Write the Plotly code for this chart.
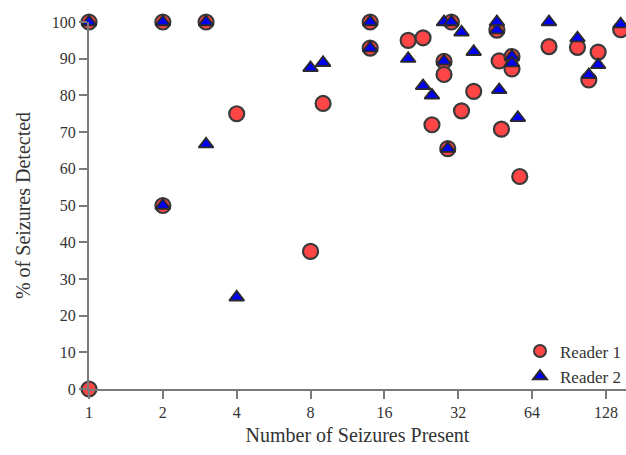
import plotly.graph_objects as go

# Reader 1 (circles)
r1_x = [1, 1, 2, 2, 3, 4, 8, 9, 14, 14, 20, 23, 25, 28, 28, 29, 30, 33, 37,
        46, 47, 48, 53, 53, 57, 75, 98, 109, 119, 147]
r1_y = [0, 100, 100, 50, 100, 75, 37.5, 77.8, 100, 92.9, 95, 95.7, 72, 89.3, 85.7,
        65.5, 100, 75.8, 81.1, 97.8, 89.4, 70.8, 90.6, 87.2, 57.9, 93.3, 93.1,
        84.2, 91.8, 97.9]

# Reader 2 (triangles)
r2_x = [1, 2, 2, 3, 3, 4, 8, 9, 14, 14, 20, 23, 25, 28, 28, 29, 30, 33, 37,
        46, 46, 47, 53, 53, 56, 75, 98, 109, 119, 147]
r2_y = [100, 100, 50, 100, 66.7, 25, 87.5, 88.9, 100, 92.9, 90, 82.6, 80, 100, 89.3,
        65.5, 100, 97.2, 91.9, 97.8, 100, 81.5, 90.6, 88.8, 73.9, 100, 95.6,
        85.6, 88.3, 99.4]

x_ticks = [1, 2, 4, 8, 16, 32, 64, 128]
y_ticks = list(range(0, 101, 10))

font_family = "Liberation Serif, Times New Roman, serif"

fig = go.Figure()
fig.add_trace(go.Scatter(
    x=r1_x, y=r1_y, mode="markers", name="Reader 1", cliponaxis=False,
    marker=dict(symbol="circle", size=15, color="#FF4545",
                line=dict(color="#3a3a3a", width=2.2)),
))
fig.add_trace(go.Scatter(
    x=r2_x, y=r2_y, mode="markers", name="Reader 2", cliponaxis=False,
    marker=dict(symbol="triangle-up", size=13, color="#0000F0",
                line=dict(color="#2a2a2a", width=1.8)),
))

fig.update_layout(
    width=626, height=455,
    margin=dict(l=89, r=0, t=22, b=66),
    paper_bgcolor="white", plot_bgcolor="white",
    font=dict(family=font_family, size=16, color="#333333"),
    showlegend=True,
    legend=dict(x=1.0, xanchor="right", y=-0.015, yanchor="bottom",
                bgcolor="rgba(0,0,0,0)", font=dict(size=17, color="#333333"),
                itemsizing="constant", tracegroupgap=0),
    xaxis=dict(
        type="log", range=[0, 2.189],
        tickvals=x_ticks, ticktext=[str(v) for v in x_ticks],
        showgrid=False, zeroline=False,
        showline=True, linecolor="#7a7a7a", linewidth=2,
        ticks="outside", ticklen=8, tickwidth=2, tickcolor="#7a7a7a",
        tickfont=dict(size=16, family=font_family, color="#333333"),
        title=dict(text="Number of Seizures Present", standoff=8,
                   font=dict(size=20, family=font_family, color="#333333")),
    ),
    yaxis=dict(
        range=[0, 100],
        tickvals=y_ticks,
        showgrid=False, zeroline=False,
        showline=True, linecolor="#7a7a7a", linewidth=2,
        ticks="outside", ticklen=8, tickwidth=2, tickcolor="#7a7a7a",
        tickfont=dict(size=16, family=font_family, color="#333333"),
        title=dict(text="% of Seizures Detected", standoff=16,
                   font=dict(size=20, family=font_family, color="#333333")),
    ),
)

fig.write_html("out.html")
